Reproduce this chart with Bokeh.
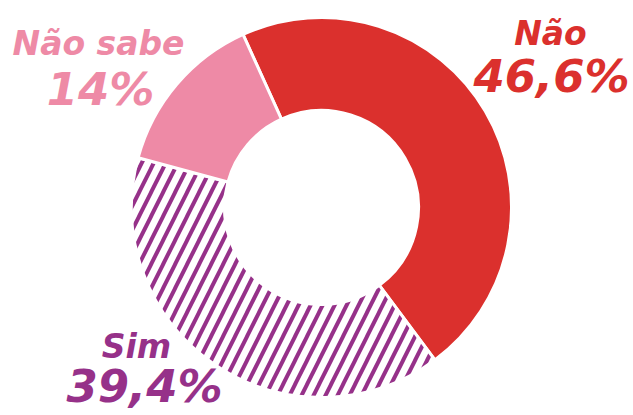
import math
from bokeh.plotting import figure
from bokeh.models import Range1d
from bokeh.core.properties import value
from bokeh.embed import file_html
from bokeh.resources import INLINE

categories = ["Não", "Sim", "Não sabe"]
values = [46.6, 39.4, 14.0]
labels = ["46,6%", "39,4%", "14%"]
colors = ["#DB302D", "#963189", "#EE8AA6"]
hatches = ["blank", "/", "blank"]

W, H = 633, 415
p = figure(width=W, height=H, output_backend="svg", toolbar_location=None,
           x_range=Range1d(0, W), y_range=Range1d(0, H), min_border=0)
p.axis.visible = False
p.grid.visible = False
p.outline_line_color = None
p.background_fill_color = "white"

cx, cy = 321, 208
start_offset = -24.4  # degrees clockwise from top where first slice starts
total = sum(values)
starts, ends = [], []
acc = start_offset
for v in values:
    a0 = acc
    a1 = acc + v / total * 360.0
    starts.append(math.radians(90 - a0))
    ends.append(math.radians(90 - a1))
    acc = a1

for i in range(len(values)):
    if hatches[i] == "blank":
        p.annular_wedge(x=cx, y=cy, inner_radius=97, outer_radius=190,
                        inner_radius_units="screen", outer_radius_units="screen",
                        start_angle=starts[i], end_angle=ends[i], direction="clock",
                        fill_color=colors[i], line_color="white", line_width=3)
    else:
        p.annular_wedge(x=cx, y=cy, inner_radius=97, outer_radius=190,
                        inner_radius_units="screen", outer_radius_units="screen",
                        start_angle=starts[i], end_angle=ends[i], direction="clock",
                        fill_color="white", hatch_pattern=hatches[i],
                        hatch_color=colors[i], hatch_scale=24, hatch_weight=4,
                        line_color="white", line_width=3)

FONT = value("DejaVu Sans")
name_pos = [(550, H - 33), (136, H - 346), (98, H - 43)]
pct_pos = [(551, H - 76), (144, H - 386), (100, H - 89)]
for i in range(len(values)):
    p.text(x=[name_pos[i][0]], y=[name_pos[i][1]], text=[categories[i]],
           text_font=FONT, text_font_style="bold italic",
           text_font_size="33px", text_color=colors[i],
           text_align="center", text_baseline="alphabetic")
    p.text(x=[pct_pos[i][0]], y=[pct_pos[i][1]], text=[labels[i]],
           text_font=FONT, text_font_style="bold italic",
           text_font_size="45px", text_color=colors[i],
           text_align="center", text_baseline="alphabetic")

open("out.html", "w").write(file_html(p, INLINE))
